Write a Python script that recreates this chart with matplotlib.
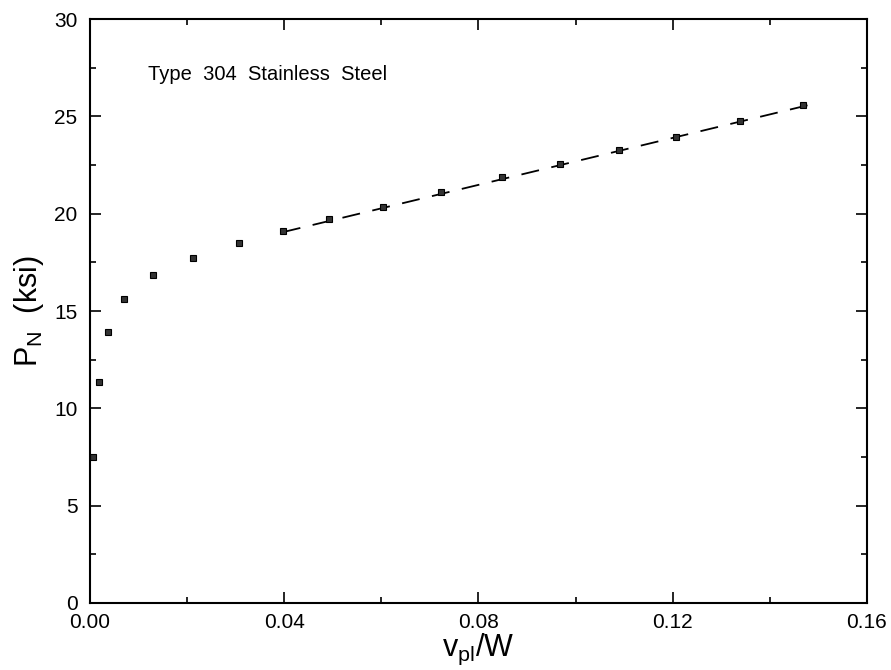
import matplotlib
matplotlib.use("Agg")
import matplotlib.pyplot as plt
from matplotlib.ticker import MultipleLocator, FormatStrFormatter

# measured points
vpl_w = [0.0007, 0.0019, 0.0038, 0.0071, 0.0130, 0.0213, 0.0307, 0.0397,
         0.0492, 0.0603, 0.0722, 0.0848, 0.0968, 0.1090, 0.1207, 0.1339, 0.1468]
p_n = [7.48, 11.33, 13.92, 15.61, 16.83, 17.72, 18.49, 19.12,
       19.71, 20.32, 21.09, 21.88, 22.57, 23.28, 23.96, 24.74, 25.56]

# linear fit through the later points
fit_x = [0.0397, 0.1483]
fit_y = [19.05, 25.60]

plt.rcParams['font.family'] = ['Liberation Sans', 'DejaVu Sans']

fig = plt.figure(figsize=(8.91, 6.70), dpi=100)
ax = fig.add_axes([0.101, 0.1, 0.872, 0.8716])

ax.plot(fit_x, fit_y, color='black', lw=1.3, dashes=(10, 7))
ax.plot(vpl_w, p_n, 's', ms=5, mfc='#333333', mec='black', mew=0.8)

ax.set_xlim(0, 0.16)
ax.set_ylim(0, 30)
ax.xaxis.set_major_locator(MultipleLocator(0.04))
ax.xaxis.set_minor_locator(MultipleLocator(0.02))
ax.yaxis.set_major_locator(MultipleLocator(5))
ax.yaxis.set_minor_locator(MultipleLocator(2.5))
ax.xaxis.set_major_formatter(FormatStrFormatter('%.2f'))
ax.tick_params(which='both', direction='in', top=True, right=True, labelsize=15, width=1.2)
ax.tick_params(axis='y', pad=9)
ax.tick_params(axis='x', pad=7)
ax.tick_params(which='major', length=8)
ax.tick_params(which='minor', length=4)
for lbl in ax.get_yticklabels():
    lbl.set_verticalalignment('center_baseline')
for s in ax.spines.values():
    s.set_linewidth(1.5)

ax.set_xlabel(r'$\mathregular{v_{pl}/W}$', fontsize=22, labelpad=0)
ax.set_ylabel(r'$\mathregular{P_N}$  (ksi)', fontsize=22, labelpad=6)
ax.text(0.0119, 27.13, 'Type  304  Stainless  Steel', fontsize=14.5, ha='left', va='center')

fig.savefig('out.png', dpi=100)
